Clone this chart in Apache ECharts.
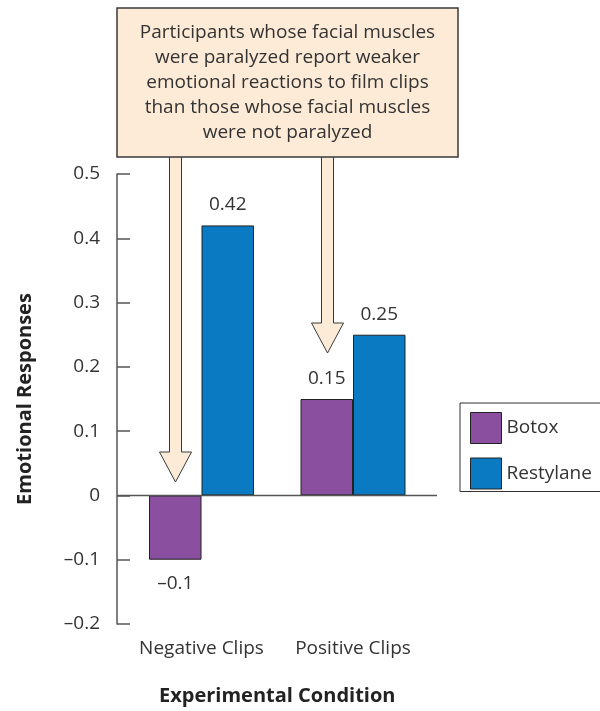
<!DOCTYPE html>
<html>
<head>
<meta charset="utf-8">
<script src="https://cdn.jsdelivr.net/npm/echarts@6/dist/echarts.min.js"></script>
<style>
  html, body { margin: 0; padding: 0; background: #fff; }
  #chart { width: 600px; height: 711px; }
</style>
</head>
<body>
<div id="chart"></div>
<script>
// data
const conditions = ['Negative Clips', 'Positive Clips'];
const groups = ['Botox', 'Restylane'];
const botox = [-0.1, 0.15];
const restylane = [0.42, 0.25];
const colors = ['#8a4f9e', '#0a7bc2'];
const calloutText = [
  'Participants whose facial muscles',
  'were paralyzed report weaker',
  'emotional reactions to film clips',
  'than those whose facial muscles',
  'were not paralyzed'
];

const FONT = '"Open Sans", Lato, sans-serif';
const fmt = v => (v < 0 ? '\u2013' : '') + (v === 0 ? '0' : Math.abs(v).toFixed(Math.abs(v * 10) % 1 ? 2 : 1));

const chart = echarts.init(document.getElementById('chart'));

const boxFill = '#fdebd7';
const edge = '#3a3a3a';

function arrow(x0, x1, headY, tipY, hw) {
  const cx = (x0 + x1) / 2;
  return {
    type: 'polygon',
    z: 100,
    shape: { points: [[x0, 150], [x0, headY], [cx - hw, headY], [cx, tipY], [cx + hw, headY], [x1, headY], [x1, 150]] },
    style: { fill: boxFill, stroke: edge, lineWidth: 1 }
  };
}

// negative bars get their label under the bar, a touch further out
const withLabels = vals => vals.map(v => ({ value: v, label: { distance: v < 0 ? 14 : 11 } }));

const barLabel = { show: true, position: 'outside', fontSize: 19, color: '#333', fontFamily: FONT,
                   formatter: p => fmt(p.value) };

const option = {
  animation: false,
  textStyle: { fontFamily: FONT },
  grid: { left: 125.75, top: 174, width: 303, height: 451 },
  legend: {
    orient: 'vertical',
    left: 460, top: 403,
    data: groups,
    icon: 'rect',
    itemWidth: 31, itemHeight: 31, itemGap: 13.5,
    padding: [9, 12, 2, 10],
    borderColor: '#333', borderWidth: 1,
    itemStyle: { borderColor: '#222', borderWidth: 1 },
    textStyle: { fontSize: 19, color: '#333', fontFamily: FONT }
  },
  xAxis: {
    type: 'category',
    data: conditions,
    axisLine: { show: false },
    axisTick: { show: false },
    axisLabel: { interval: 0, fontSize: 19, color: '#333', margin: 15, fontFamily: FONT },
    name: 'Experimental Condition',
    nameLocation: 'middle',
    nameGap: 62,
    nameTextStyle: { fontSize: 20, fontWeight: 'bold', color: '#222', fontFamily: FONT }
  },
  yAxis: {
    type: 'value',
    min: -0.2, max: 0.5, interval: 0.1,
    offset: 8.75,
    splitLine: { show: false },
    axisLine: { show: true, onZero: false, lineStyle: { color: '#555', width: 1.5 } },
    axisTick: { show: true, inside: true, length: 13, lineStyle: { color: '#555', width: 1.5 } },
    axisLabel: { fontSize: 19, color: '#333', margin: 17, formatter: fmt, fontFamily: FONT },
    name: 'Emotional Responses',
    nameLocation: 'middle',
    nameGap: 82,
    nameTextStyle: { fontSize: 20, fontWeight: 'bold', color: '#222', fontFamily: FONT }
  },
  series: [
    {
      name: groups[0], type: 'bar', data: withLabels(botox),
      barWidth: 52.5, barGap: '0%',
      itemStyle: { color: colors[0], borderColor: '#222', borderWidth: 1 },
      label: barLabel
    },
    {
      name: groups[1], type: 'bar', data: withLabels(restylane),
      barWidth: 52.5, barGap: '0%',
      itemStyle: { color: colors[1], borderColor: '#222', borderWidth: 1 },
      label: barLabel
    }
  ]
};

chart.setOption(option);

// zero baseline runs past the plot on both sides, as in the original
const zeroY = chart.convertToPixel({ yAxisIndex: 0 }, 0);

chart.setOption({
  graphic: [
    {
      type: 'line', z: 5,
      shape: { x1: 117, y1: zeroY, x2: 437, y2: zeroY },
      style: { stroke: '#555', lineWidth: 1.5 }
    },
    arrow(169.5, 181.5, 452, 482, 16),
    arrow(321.5, 333.5, 323, 353, 16),
    {
      type: 'rect', z: 101,
      shape: { x: 117, y: 8, width: 341, height: 149 },
      style: { fill: boxFill, stroke: edge, lineWidth: 1.5 }
    },
    {
      type: 'text', z: 102,
      x: 287.5, y: 20,
      style: { text: calloutText.join('\n'), font: '19px ' + FONT, fill: '#333',
               textAlign: 'center', lineHeight: 25 }
    }
  ]
});
</script>
</body>
</html>
